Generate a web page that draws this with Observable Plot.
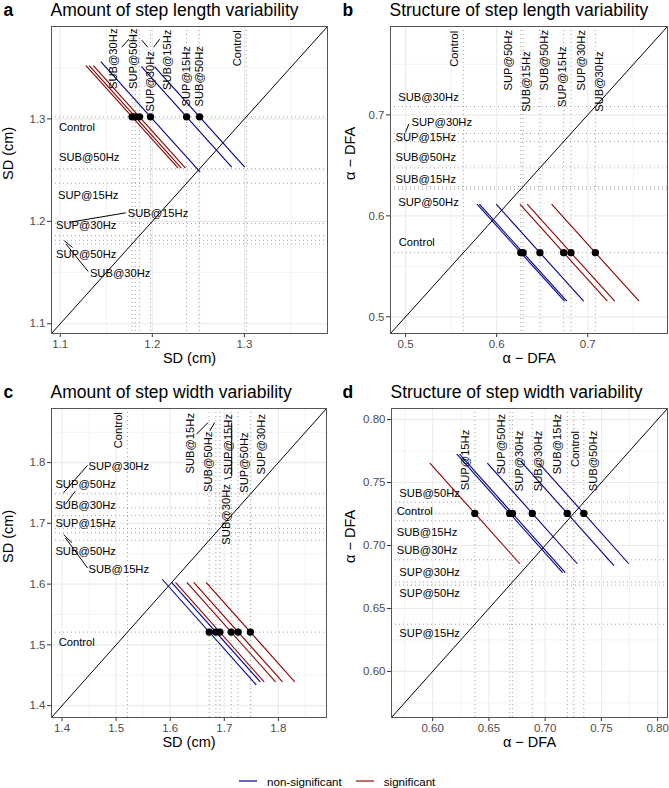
<!DOCTYPE html>
<html><head><meta charset="utf-8">
<script src="https://cdn.jsdelivr.net/npm/d3@7"></script>
<script src="https://cdn.jsdelivr.net/npm/@observablehq/plot@0.6"></script>
<style>
body{margin:0;background:#fff;font-family:"Liberation Sans",Arial,Helvetica,sans-serif;}
#root{position:relative;width:669px;height:788px;overflow:hidden;background:#fff;}
.panel{position:absolute;}
#legend{position:absolute;left:239px;top:771px;height:20px;display:flex;align-items:center;font-size:11.6px;color:#000;}
#legend svg{display:block;}
</style></head><body><div id="root"></div>
<script>
const conditions = ["Control","SUB@15Hz","SUB@30Hz","SUB@50Hz","SUP@15Hz","SUP@30Hz","SUP@50Hz"];
const sigLevels = ["non-significant","significant"];

// Panel a: amount of step length variability (SD, cm)
const valuesA = [1.302, 1.198, 1.178, 1.2513, 1.2372, 1.186, 1.1815];
const halfA   = [0, 0.054, 0.05, 0.049, 0.049, 0.05, 0.05];
const sigA    = ["", "non-significant", "significant", "non-significant", "non-significant", "significant", "significant"];
const topXA   = [1.2924, 1.2166, 1.1581, 1.2513, 1.2369, 1.1982, 1.1798];
const topYA   = [1.369, 1.3577, 1.3587, 1.3416, 1.3416, 1.3367, 1.3587];
const leftXA  = [1.0986, 1.1733, 1.1322, 1.0986, 1.0975, 1.0953, 1.0953];
const leftYA  = [1.292, 1.2082, 1.1491, 1.2626, 1.2251, 1.1965, 1.1674];
const leadersA = [
  {x1:1.1669,y1:1.3700,x2:1.1745,y2:1.3778},
  {x1:1.1885,y1:1.3768,x2:1.1950,y2:1.3700},
  {x1:1.2015,y1:1.3700,x2:1.2080,y2:1.3778},
  {x1:1.1097,y1:1.1990,x2:1.1711,y2:1.2083},
  {x1:1.1043,y1:1.1811,x2:1.1134,y2:1.1745},
  {x1:1.1062,y1:1.1779,x2:1.1303,y2:1.1511}
];
const domainA = [1.0905, 1.3902];
const majorA = [1.1, 1.2, 1.3];
const minorA = [1.15, 1.25, 1.35];

// Panel b: structure of step length variability (alpha-DFA)
const valuesB = [0.5635, 0.629, 0.7083, 0.6475, 0.6735, 0.6815, 0.6265];
const halfB   = [0, 0.048, 0.048, 0.048, 0.048, 0.048, 0.048];
const sigB    = ["", "non-significant", "significant", "non-significant", "significant", "significant", "non-significant"];
const topXB   = [0.5532, 0.6322, 0.7129, 0.6523, 0.6726, 0.6927, 0.6131];
const topYB   = [0.7655, 0.7329, 0.7329, 0.7541, 0.7378, 0.7541, 0.7541];
const leftXB  = [0.4926, 0.4890, 0.4920, 0.4890, 0.4890, 0.5066, 0.4920];
const leftYB  = [0.5734, 0.6359, 0.7174, 0.6582, 0.6774, 0.6927, 0.6138];
const leadersB = [{x1:0.5000,y1:0.6827,x2:0.5036,y2:0.6910}];
const domainB = [0.4835, 0.7875];
const majorB = [0.5, 0.6, 0.7];
const minorB = [0.55, 0.65, 0.75];

// Panel c: amount of step width variability (SD, cm)
const valuesC = [1.521, 1.6722, 1.6918, 1.6845, 1.7128, 1.7483, 1.7256];
const halfC   = [0, 0.087, 0.082, 0.082, 0.082, 0.082, 0.082];
const sigC    = ["", "non-significant", "significant", "non-significant", "significant", "significant", "significant"];
const topXC   = [1.5042, 1.6376, 1.7039, 1.6700, 1.7068, 1.7683, 1.7376];
const topYC   = [1.8533, 1.8318, 1.7147, 1.8013, 1.8302, 1.8302, 1.8000];
const leftXC  = [1.3937, 1.449, 1.3877, 1.3877, 1.3877, 1.449, 1.3877];
const leftYC  = [1.504, 1.6239, 1.7295, 1.6541, 1.6998, 1.7934, 1.7642];
const leadersC = [
  {x1:1.6485,y1:1.8467,x2:1.6700,y2:1.8660},
  {x1:1.6731,y1:1.8521,x2:1.6823,y2:1.8660},
  {x1:1.7137,y1:1.8660,x2:1.7137,y2:1.7780},
  {x1:1.7000,y1:1.7730,x2:1.7137,y2:1.7760},
  {x1:1.4029,y1:1.7505,x2:1.4471,y2:1.7955},
  {x1:1.4061,y1:1.7312,x2:1.4245,y2:1.7531},
  {x1:1.4029,y1:1.6817,x2:1.4184,y2:1.6680},
  {x1:1.4061,y1:1.6762,x2:1.4471,y2:1.6267}
];
const domainC = [1.3805, 1.889];
const majorC = [1.4, 1.5, 1.6, 1.7, 1.8];
const minorC = [1.45, 1.55, 1.65, 1.75, 1.85];

// Panel d: structure of step width variability (alpha-DFA)
const valuesD = [0.7255, 0.7197, 0.6886, 0.7344, 0.6375, 0.6709, 0.6685];
const halfD   = [0, 0.0415, 0.040, 0.040, 0.040, 0.047, 0.047];
const sigD    = ["", "non-significant", "non-significant", "non-significant", "significant", "non-significant", "non-significant"];
const topXD   = [0.7270, 0.7108, 0.6936, 0.7427, 0.6295, 0.6768, 0.6614];
const topYD   = [0.7766, 0.7805, 0.7671, 0.7671, 0.7679, 0.7671, 0.7805];
const leftXD  = [0.5681, 0.5681, 0.5681, 0.5704, 0.5704, 0.5704, 0.5704];
const leftYD  = [0.7271, 0.7101, 0.6964, 0.7416, 0.6299, 0.6790, 0.6622];
const leadersD = [];
const domainD = [0.5634, 0.8088];
const majorD = [0.60, 0.65, 0.70, 0.75, 0.80];
const minorD = [0.575, 0.625, 0.675, 0.725, 0.775];

const FONT = '"Liberation Sans", Arial, Helvetica, sans-serif';
const BLUE = "#00008B", RED = "#8B0000";

function panel(o) {
  const ctrl = o.values[0];
  const rows = conditions.map((c, i) => ({
    c, v: o.values[i], sig: o.sig[i], h: o.half[i],
    tx: o.topX[i], ty: o.topY[i], lx: o.leftX[i], ly: o.leftY[i]
  }));
  const tests = rows.filter(r => r.c !== "Control");
  const gridStyle = {stroke: "#ebebeb", strokeOpacity: 1};
  return Plot.plot({
    width: o.width, height: o.height,
    marginTop: 26, marginBottom: 42, marginLeft: o.marginLeft, marginRight: o.marginRight,
    style: {fontFamily: FONT, fontSize: "11.5px", background: "white", overflow: "visible"},
    x: {domain: o.domain, label: null},
    y: {domain: o.domain, label: null},
    color: {domain: sigLevels, range: [BLUE, RED]},
    marks: [
      Plot.ruleX(o.minor, {...gridStyle, strokeWidth: 0.6}),
      Plot.ruleY(o.minor, {...gridStyle, strokeWidth: 0.6}),
      Plot.ruleX(o.major, {...gridStyle, strokeWidth: 1.1}),
      Plot.ruleY(o.major, {...gridStyle, strokeWidth: 1.1}),
      Plot.ruleX(rows, {x: "v", stroke: "#a3a3a3", strokeWidth: 1, strokeDasharray: "1,3"}),
      Plot.ruleY(rows, {y: "v", stroke: "#a3a3a3", strokeWidth: 1, strokeDasharray: "1,3"}),
      Plot.line(o.domain, {x: d => d, y: d => d, stroke: "black", strokeWidth: 1}),
      Plot.link(tests, {x1: r => r.v - r.h, y1: r => ctrl + r.h, x2: r => r.v + r.h, y2: r => ctrl - r.h, stroke: "sig", strokeWidth: 1.1}),
      Plot.dot(tests, {x: "v", y: () => ctrl, r: 3.7, fill: "black", stroke: null}),
      Plot.link(o.leaders, {x1: "x1", y1: "y1", x2: "x2", y2: "y2", stroke: "black", strokeWidth: 1}),
      Plot.text(rows, {x: "tx", y: "ty", text: "c", rotate: -90, fontSize: 11.2, fill: "black"}),
      Plot.text(rows, {x: "lx", y: "ly", text: "c", textAnchor: "start", fontSize: 11.2, fill: "black"}),
      Plot.axisX(o.major, {tickFormat: o.fmt, tickSize: 4, tickPadding: 2, fontSize: 11.5, stroke: "#333", fill: "#4d4d4d", label: null}),
      Plot.axisY(o.major, {tickFormat: o.fmt, tickSize: 4, tickPadding: 2, fontSize: 11.5, stroke: "#333", fill: "#4d4d4d", label: null}),
      Plot.frame({stroke: "#555", strokeWidth: 1}),
      Plot.text([o.axisTitle], {frameAnchor: "bottom", dy: 29, fontSize: 14.5, fill: "black"}),
      Plot.text([o.axisTitle], {frameAnchor: "left", rotate: -90, dx: o.yTitleDx, fontSize: 14.5, fill: "black"}),
      Plot.text([o.letter], {frameAnchor: "top-left", dx: o.letterDx, dy: -11, lineAnchor: "bottom", textAnchor: "start", fontWeight: "bold", fontSize: 17.5, fill: "black"}),
      Plot.text([o.title], {frameAnchor: "top-left", dx: -1, dy: -11, lineAnchor: "bottom", textAnchor: "start", fontSize: 17.5, fill: "black"})
    ]
  });
}

const root = document.getElementById("root");
function place(svg, left, top) {
  const d = document.createElement("div");
  d.className = "panel";
  d.style.left = left + "px";
  d.style.top = top + "px";
  d.appendChild(svg);
  root.appendChild(d);
}
const f1 = d3.format(".1f"), f2 = d3.format(".2f");

place(panel({letter: "a", letterDx: -48, title: "Amount of step length variability", axisTitle: "SD (cm)", yTitleDx: -43,
  values: valuesA, half: halfA, sig: sigA, topX: topXA, topY: topYA, leftX: leftXA, leftY: leftYA, leaders: leadersA,
  domain: domainA, major: majorA, minor: minorA, fmt: f1,
  width: 335, height: 375, marginLeft: 51, marginRight: 8}), 0, 0);

place(panel({letter: "b", letterDx: -48, title: "Structure of step length variability", axisTitle: "α − DFA", yTitleDx: -40,
  values: valuesB, half: halfB, sig: sigB, topX: topXB, topY: topYB, leftX: leftXB, leftY: leftYB, leaders: leadersB,
  domain: domainB, major: majorB, minor: minorB, fmt: f1,
  width: 334, height: 375, marginLeft: 55, marginRight: 2}), 335, 0);

place(panel({letter: "c", letterDx: -48, title: "Amount of step width variability", axisTitle: "SD (cm)", yTitleDx: -43,
  values: valuesC, half: halfC, sig: sigC, topX: topXC, topY: topYC, leftX: leftXC, leftY: leftYC, leaders: leadersC,
  domain: domainC, major: majorC, minor: minorC, fmt: f1,
  width: 335, height: 377, marginLeft: 51, marginRight: 9}), 0, 382);

place(panel({letter: "d", letterDx: -49, title: "Structure of step width variability", axisTitle: "α − DFA", yTitleDx: -41,
  values: valuesD, half: halfD, sig: sigD, topX: topXD, topY: topYD, leftX: leftXD, leftY: leftYD, leaders: leadersD,
  domain: domainD, major: majorD, minor: minorD, fmt: f2,
  width: 334, height: 377, marginLeft: 56, marginRight: 2}), 335, 382);

// legend
const legend = document.createElement("div");
legend.id = "legend";
const keyColors = ["#4040a0", "#b04545"];
sigLevels.forEach((lab, i) => {
  const s = document.createElementNS("http://www.w3.org/2000/svg", "svg");
  s.setAttribute("width", "18"); s.setAttribute("height", "10");
  s.style.marginRight = "10px";
  if (i > 0) s.style.marginLeft = "14px";
  const l = document.createElementNS("http://www.w3.org/2000/svg", "line");
  l.setAttribute("x1", "0"); l.setAttribute("x2", "18"); l.setAttribute("y1", "5"); l.setAttribute("y2", "5");
  l.setAttribute("stroke", keyColors[i]); l.setAttribute("stroke-width", "1.6");
  s.appendChild(l);
  const t = document.createElement("span");
  t.textContent = lab;
  legend.appendChild(s); legend.appendChild(t);
});
root.appendChild(legend);
</script>
</body></html>
